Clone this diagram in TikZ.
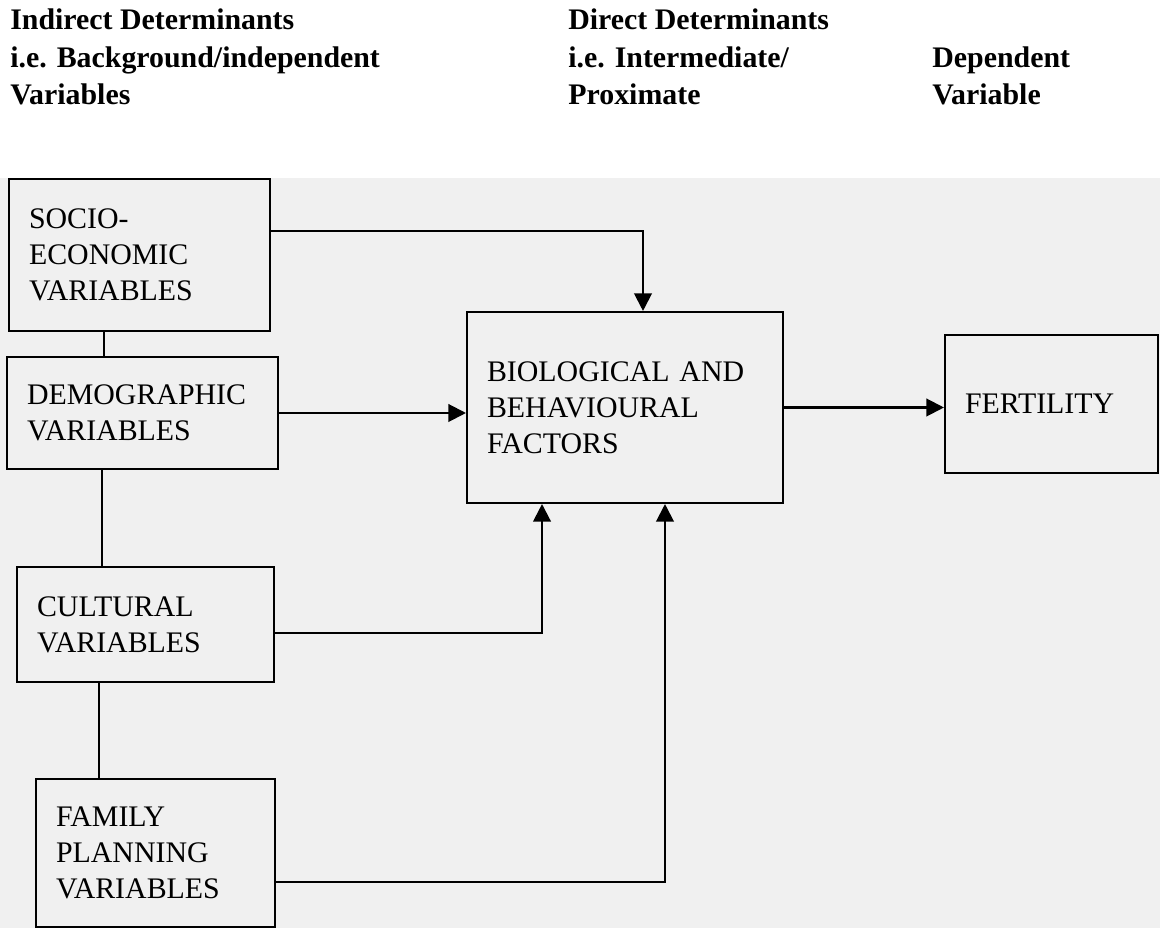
\documentclass[tikz,border=0pt]{standalone}
\usepackage{fontspec}
\setmainfont{Liberation Serif}
\usetikzlibrary{positioning,arrows.meta}
\definecolor{scangray}{gray}{0.94}

\tikzset{
  varbox/.style={draw=black, very thick, align=left, inner xsep=0.4cm, inner ysep=0pt,
    font=\fontsize{17pt}{20.4pt}\selectfont},
  headtext/.style={anchor=base west, inner sep=0pt, font=\bfseries\fontsize{17pt}{20pt}\selectfont},
  arrowline/.style={draw=black, very thick, -{Triangle[length=10pt,width=10pt]}},
  plainline/.style={draw=black, very thick},
}

\begin{document}
\begin{tikzpicture}[x=0.02cm, y=-0.02cm]
\useasboundingbox (0,0) rectangle (1160,928);
\fill[scangray] (0,178) rectangle (1160,928);

% column headings
\node[headtext] (indhead) at (10,30) {Indirect Determinants};
\node[headtext] (indsub) at (10,67.5) {i.e. Background/independent};
\node[headtext] (indvar) at (10,105) {Variables};
\node[headtext] (dirhead) at (568,30) {Direct Determinants};
\node[headtext] (dirsub) at (568,67.5) {i.e. Intermediate/};
\node[headtext] (dirvar) at (568,105) {Proximate};
\node[headtext] (dephead) at (932,67.5) {Dependent};
\node[headtext] (depvar) at (932,105) {Variable};

% background variables
\node[varbox, text width=4.42cm, minimum height=3.04cm] (socio) at (139.5,255) {SOCIO-\\ECONOMIC\\VARIABLES};
\node[varbox, text width=4.62cm, minimum height=2.24cm] (demo) at (142.5,413) {DEMOGRAPHIC\\VARIABLES};
\node[varbox, text width=4.34cm, minimum height=2.30cm] (cult) at (145.5,624.5) {CULTURAL\\VARIABLES};
\node[varbox, text width=3.98cm, minimum height=2.96cm] (family) at (155.5,853) {FAMILY\\PLANNING\\VARIABLES};

% proximate and dependent
\node[varbox, text width=5.52cm, minimum height=3.82cm] (bio) at (625,407.5) {BIOLOGICAL AND\\BEHAVIOURAL\\FACTORS};
\node[varbox, text width=3.46cm, minimum height=2.76cm] (fert) at (1051.5,404) {FERTILITY};

% links between the background boxes
\draw[plainline] ([xshift=-0.71cm]socio.south) -- ([xshift=-0.71cm]socio.south |- demo.north);
\draw[plainline] ([xshift=-0.81cm]demo.south) -- ([xshift=-0.81cm]demo.south |- cult.north);
\draw[plainline] ([xshift=-0.93cm]cult.south) -- ([xshift=-0.93cm]cult.south |- family.north);

% arrows
\draw[arrowline] ([yshift=0.48cm]socio.east) -| ([xshift=0.36cm]bio.north);
\draw[arrowline] (demo.east) -- (demo.east -| bio.west);
\draw[arrowline] ([yshift=-0.17cm]cult.east) -| ([xshift=-1.66cm]bio.south);
\draw[arrowline] ([yshift=-0.58cm]family.east) -| ([xshift=0.8cm]bio.south);
\draw[arrowline] (bio.east) -- (bio.east -| fert.west);
\end{tikzpicture}
\end{document}
